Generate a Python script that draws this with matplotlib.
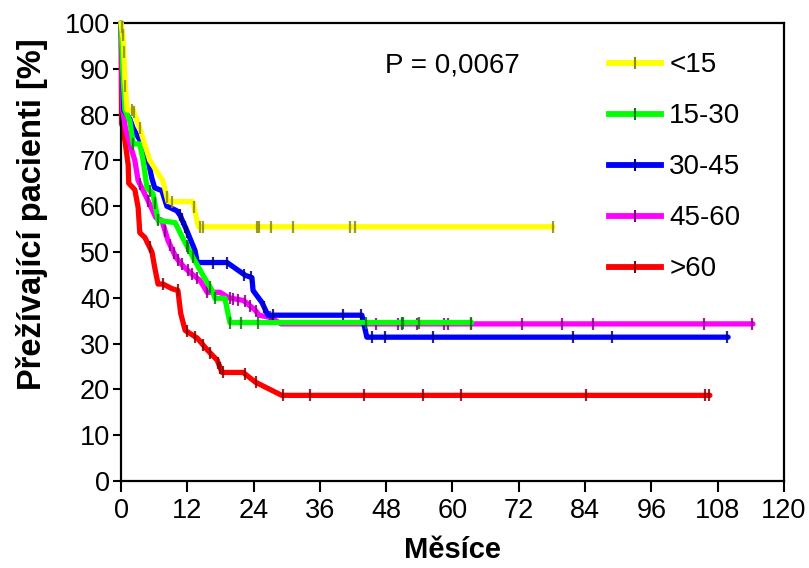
import numpy as np
import matplotlib
matplotlib.use("Agg")
import matplotlib.pyplot as plt
from matplotlib.lines import Line2D

plt.rcParams['font.family'] = ['Liberation Sans', 'DejaVu Sans']

# skupiny podle veku
labels = ["<15", "15-30", "30-45", "45-60", ">60"]
colors = ["#ffff00", "#00ff00", "#0000ff", "#ff00ff", "#ff0000"]
tick_colors = ["#8a8a00", "#0a7a0a", "#00008a", "#8a008a", "#8a0000"]

# krivky prezivani (mesice, %)
t_lt15 = [0, 0.4, 0.7, 1.1, 2.2, 3.4, 5.2, 7.6, 8.5, 13.0, 14.0, 78.2]
s_lt15 = [100, 96.5, 88, 81, 81, 77, 70, 65.5, 61, 61, 55.5, 55.5]
c_lt15 = [0.1, 0.3, 0.5, 0.8, 1.9, 2.3, 3.4, 8.3, 9.2, 13.2, 14.3, 14.8, 24.6, 25.0, 27.2,
          31.1, 41.4, 42.4, 78.2]

t_15_30 = [0, 0.3, 0.7, 1.6, 2.2, 3.4, 4.0, 4.7, 5.8, 6.7, 9.8, 11.4, 13.4, 14.8, 16.5,
           17.0, 18.8, 19.7, 63.5]
s_15_30 = [100, 90, 81, 78.6, 73.6, 73.6, 70, 64, 62.7, 56.9, 56.4, 52.5, 48, 45, 41.6,
           39.9, 39.9, 34.6, 34.6]
c_15_30 = [2.2, 5.2, 6.1, 6.7, 11.9, 12.1, 13.0, 16.1, 17.0, 19.7, 21.7, 24.8, 44.3, 50.8,
           51.0, 53.9, 63.3]

t_30_45 = [0, 0.3, 0.5, 1.6, 2.2, 3.8, 4.9, 5.6, 6.1, 7.4, 8.3, 10.1, 10.7, 11.9, 13.4,
           13.8, 19.2, 22.5, 23.7, 23.9, 25.5, 26.6, 43.6, 44.5, 109.9]
s_30_45 = [100, 90, 81, 79, 77, 73.6, 70, 66, 64, 63.4, 60, 59, 58, 54.7, 50.3,
           47.7, 47.7, 44.9, 44.4, 41.6, 39, 36.2, 36.2, 31.4, 31.4]
c_30_45 = [10.7, 11.0, 11.6, 12.0, 16.7, 19.2, 22.3, 23.5, 25.9, 27.5, 40.2, 43.4, 45.4,
           47.8, 56.5, 81.8, 88.9, 109.7]

t_45_60 = [0, 0.3, 0.8, 1.6, 2.5, 3.1, 4.7, 6.3, 7.4, 8.5, 10.0, 11.2, 12.5, 14.3, 15.6,
           17.9, 19.5, 22.2, 24.3, 25.0, 27.0, 29.0, 114.4]
s_45_60 = [100, 81, 77, 73.6, 70, 65.6, 61.7, 57.5, 56.9, 52.5, 48.7, 47, 45.5, 43.8, 41.2,
           41.2, 40, 39.4, 37.3, 36.2, 35.7, 34.3, 34.3]
c_45_60 = [3.4, 4.9, 6.7, 8.0, 8.9, 9.6, 10.3, 11.0, 12.1, 12.8, 13.7, 15.6, 19.7, 20.3,
           21.2, 22.4, 23.3, 24.4, 27.0, 27.4, 46.2, 50.1, 50.9, 53.6, 58.5, 59.2, 63.3,
           72.6, 79.8, 85.4, 105.5, 114.2]

t_gt60 = [0, 0.1, 0.4, 1.3, 1.4, 2.5, 3.1, 3.4, 4.3, 5.6, 6.1, 6.7, 7.6, 9.2, 10.3, 10.8,
          11.6, 13.8, 15.7, 17.4, 18.3, 22.1, 24.3, 29.1, 106.6]
s_gt60 = [100, 78, 77, 69, 65, 63.6, 59.7, 54.2, 53.2, 50, 46.6, 43, 43, 42, 41.6, 36.6,
          32.9, 31.2, 28.5, 26.4, 23.7, 23.7, 21.6, 18.7, 18.7]
c_gt60 = [5.2, 7.6, 10.3, 11.9, 13.4, 14.8, 16.1, 17.6, 18.0, 18.5, 22.4, 24.4, 29.3, 34.2,
          44.0, 54.7, 61.5, 84.2, 105.7, 106.4]

times = [t_lt15, t_15_30, t_30_45, t_45_60, t_gt60]
surv = [s_lt15, s_15_30, s_30_45, s_45_60, s_gt60]
cens = [c_lt15, c_15_30, c_30_45, c_45_60, c_gt60]

x_ticks = list(range(0, 121, 12))
y_ticks = list(range(0, 101, 10))

fig = plt.figure(figsize=(8.09, 5.68), dpi=100)
ax = fig.add_axes([0.1496, 0.1532, 0.8194, 0.8063])

# poradi kresleni: cervena dole, zluta nahore
order = [4, 3, 2, 1, 0]
for k, i in enumerate(order):
    ax.plot(times[i], surv[i], color=colors[i], lw=3.8, solid_capstyle='round',
            solid_joinstyle='round', zorder=2 + k, clip_on=False)
    cy = np.interp(cens[i], times[i], surv[i])
    ax.plot(cens[i], cy, linestyle='none', marker='|', markersize=8, mew=1.6,
            color=tick_colors[i], alpha=0.85, zorder=2 + k, clip_on=False)

ax.set_xlim(0, 120)
ax.set_ylim(0, 100)
ax.set_xticks(x_ticks)
ax.set_yticks(y_ticks)
ax.tick_params(axis='both', direction='out', labelsize=19.5, width=1.5, colors='black')
ax.tick_params(axis='y', length=6, pad=2)
ax.tick_params(axis='x', length=8, pad=4)
for sp in ax.spines.values():
    sp.set_linewidth(1.6)

ax.set_xlabel("Měsíce", fontsize=21, fontweight='bold', labelpad=9)
ax.set_ylabel("Přežívající pacienti [%]", fontsize=23.5, fontweight='bold')
ax.yaxis.set_label_coords(-0.11, 0.583)

ax.text(0.50, 0.908, "P = 0,0067", transform=ax.transAxes, fontsize=20, ha='center',
        va='center')

handles = [Line2D([], [], color=colors[i], lw=4.2, marker='|', markersize=8, mew=1.5,
                  markeredgecolor=tick_colors[i]) for i in range(5)]
ax.legend(handles, labels, loc='upper left', bbox_to_anchor=(0.72, 0.96), frameon=False,
          fontsize=20, handlelength=1.85, handletextpad=0.3, labelspacing=0.9,
          numpoints=1, borderaxespad=0)

fig.savefig("out.png", dpi=100)
